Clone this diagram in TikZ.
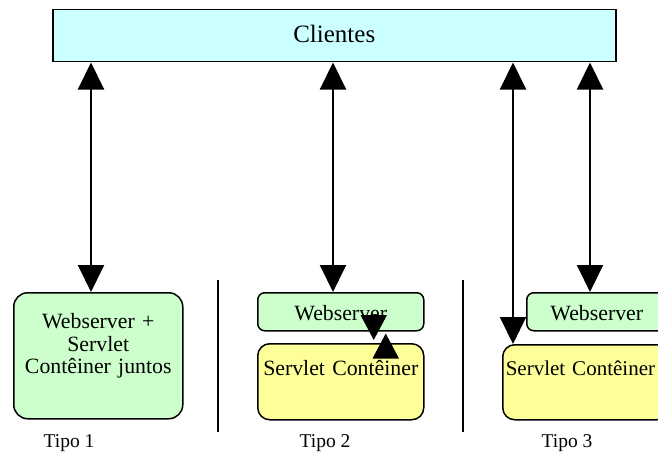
\documentclass[tikz,border=0pt]{standalone}
\usepackage{fontspec}
\setmainfont{Liberation Serif}
\usetikzlibrary{arrows.meta}
\definecolor{cliente}{HTML}{CCFFFF}
\definecolor{verde}{HTML}{CCFFCC}
\definecolor{amarelo}{HTML}{FFFF99}

\begin{document}
\begin{tikzpicture}[x=1pt,y=-1pt,
	box/.style={draw, line width=1.5pt, inner sep=0pt, align=center, anchor=north west, font=\fontsize{21.8}{22.5}\selectfont},
	link/.style={line width=2pt, >={Triangle[width=26pt,length=27pt]}, <->},
	tip/.style={line width=2pt, >={Triangle[width=26pt,length=25pt]}, ->},
	tipo/.style={anchor=base, font=\fontsize{19.5}{20}\selectfont}]
\useasboundingbox (0,0) rectangle (658,452);
\node [box, fill=cliente, text width=563pt, text height=33pt, text depth=19pt, font=\fontsize{25}{26}\selectfont] (c) at (52,9) {Clientes};
\node [box, fill=verde, rounded corners=14pt, text width=169pt, text height=36pt, text depth=90pt] (a) at (13,292) {Webserver +\\Servlet\\Contêiner juntos};
\node [box, fill=verde, rounded corners=7pt, text width=166pt, text height=28pt, text depth=10pt] (b) at (257,292) {Webserver};
\node [box, fill=amarelo, rounded corners=12pt, text width=166pt, text height=32pt, text depth=44pt] (d) at (257,343) {Servlet Contêiner};
\node [box, fill=verde, rounded corners=7pt, text width=140pt, text height=28pt, text depth=10pt] (e) at (526,292) {Webserver};
\node [box, fill=amarelo, rounded corners=12pt, align=left, inner xsep=3pt, text width=160pt, text height=31pt, text depth=44pt, font=\fontsize{21}{22}\selectfont] (f) at (502,344) {Servlet Contêiner};
\node [tipo] (t1) at (69,447) {Tipo 1};
\node [tipo] (t2) at (325,447) {Tipo 2};
\node [tipo] (t3) at (567,447) {Tipo 3};
\draw [line width=1.2pt] (218,280) -- (218,432);
\draw [line width=1.2pt] (463,280) -- (463,432);
\draw [link] (c.south -| 91,0) -- (a.north -| 91,0);
\draw [link] (c.south -| 333,0) -- (b.north -| 333,0);
\draw [link] (c.south -| 513,0) -- (f.north -| 513,0);
\draw [link] (c.south -| 590,0) -- (e.north -| 590,0);
\draw [tip] ([xshift=33pt,yshift=16pt]b.south) -- ([xshift=33pt,yshift=3pt]d.north);
\draw [tip] ([xshift=45pt,yshift=-15pt]d.north) -- ([xshift=45pt,yshift=-2pt]b.south);
\end{tikzpicture}
\end{document}
